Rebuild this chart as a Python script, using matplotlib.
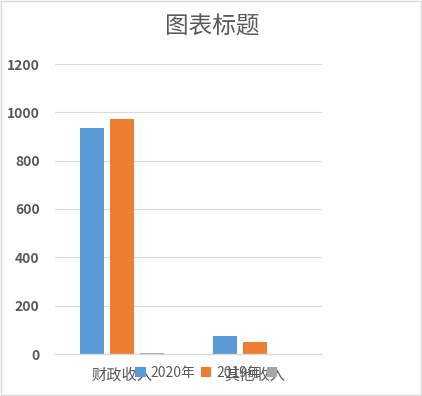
import matplotlib
matplotlib.use("Agg")
import matplotlib.pyplot as plt
import numpy as np
from matplotlib.patches import Patch

plt.rcParams['font.family'] = ['Noto Sans CJK SC', 'DejaVu Sans']

categories = ["财政收入", "其他收入"]
series_names = ["2020年", "2019年", " "]
values_2020 = [935, 74]
values_2019 = [972, 50]
values_s3 = [4, 0]
colors = ["#5B9BD5", "#ED7D31", "#A5A5A5"]
yticks = [0, 200, 400, 600, 800, 1000, 1200]

fig = plt.figure(figsize=(4.22, 3.96), dpi=100)
ax = fig.add_axes([55/422, 1-354/396, (322-55)/422, (354-64)/396])

x = np.arange(len(categories))
w = 0.18
step = 0.225
for i, (vals, c) in enumerate(zip([values_2020, values_2019, values_s3], colors)):
    ax.bar(x + (i-1)*step, vals, width=w, color=c, zorder=3)

ax.set_xlim(-0.5, 1.5)
ax.set_ylim(0, 1200)
ax.set_yticks(yticks)
ax.set_yticklabels([str(t) for t in yticks], fontsize=10, color="#595959", fontweight='bold')
ax.set_xticks(x)
ax.set_xticklabels(categories, fontsize=11, color="#595959")
ax.tick_params(axis='y', length=0, pad=11)
ax.tick_params(axis='x', length=0, pad=9)
ax.grid(axis='y', color="#D9D9D9", linewidth=0.8, zorder=0)
for s in ['top', 'right', 'left']:
    ax.spines[s].set_visible(False)
ax.spines['bottom'].set_color("#D9D9D9")
ax.spines['bottom'].set_linewidth(1)
ax.spines['bottom'].set_zorder(4)

fig.text(212/422, 1-27/396, "图表标题", ha='center', va='center', fontsize=17, color="#595959")

handles = [Patch(facecolor=c) for c in colors]
leg = fig.legend(handles, series_names, loc='center', bbox_to_anchor=(210/422, 1-373/396),
                 ncol=3, frameon=False, fontsize=10, handlelength=0.75, handleheight=0.75,
                 columnspacing=0.4, handletextpad=0.35, labelcolor="#595959")

fig.patches.append(plt.Rectangle((0.002, 0.002), 0.996, 0.996, transform=fig.transFigure,
                                 fill=False, edgecolor="#D9D9D9", linewidth=1))

fig.savefig("out.png", dpi=100)
